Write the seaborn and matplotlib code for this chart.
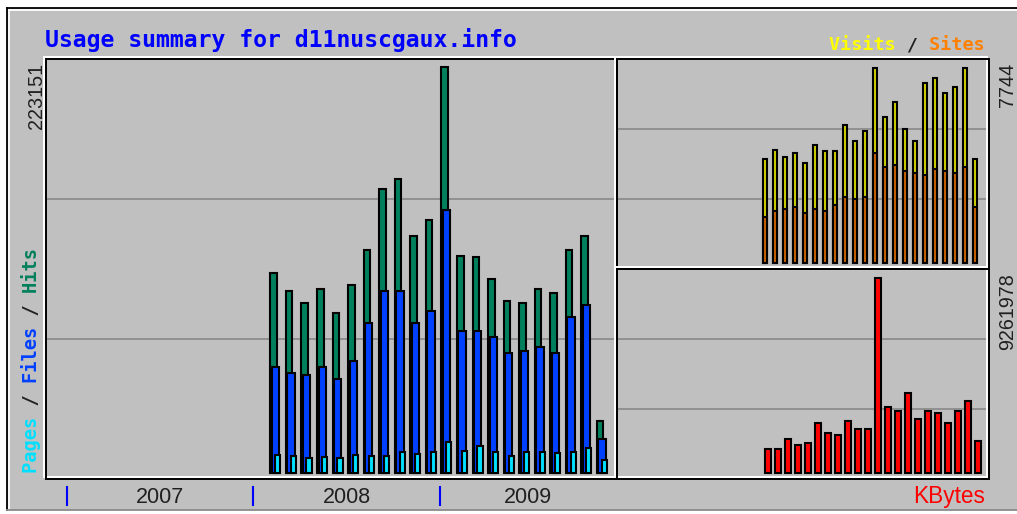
import matplotlib
matplotlib.use("Agg")
import matplotlib.pyplot as plt
import matplotlib.transforms as mtransforms
from matplotlib.patches import Rectangle
from matplotlib.lines import Line2D
import seaborn as sns

# ---- data ----
site_name = "d11nuscgaux.info"
years = [2007, 2008, 2009]
months = ["2008-02", "2008-03", "2008-04", "2008-05", "2008-06", "2008-07",
          "2008-08", "2008-09", "2008-10", "2008-11", "2008-12", "2009-01",
          "2009-02", "2009-03", "2009-04", "2009-05", "2009-06", "2009-07",
          "2009-08", "2009-09", "2009-10", "2009-11"]
hits = [109820, 99950, 93360, 101040, 87880, 103240, 122980, 156060, 161550, 130660, 139440,
        223151, 119690, 118600, 106530, 94460, 93360, 101040, 98850, 122980, 130660, 28630]
files = [58260, 54960, 53870, 58260, 51670, 61550, 82390, 99950, 99950, 82390, 88970,
         144930, 78000, 78000, 74710, 65940, 67030, 69230, 65940, 85680, 92270, 18760]
pages = [9650, 9580, 8420, 8610, 8470, 9710, 9540, 9630, 11820, 10690, 11750,
         17310, 11840, 15120, 11760, 9590, 11710, 11830, 10740, 11780, 14020, 7380]
visits = [4106, 4449, 4185, 4343, 3949, 4657, 4421, 4421, 5445, 4815, 5209,
          7744, 5760, 6390, 5287, 4815, 7110, 7346, 6716, 6953, 7720, 4106]
sites = [1823, 2059, 2138, 2217, 1980, 2138, 2059, 2295, 2610, 2531, 2610,
         4342, 3791, 3870, 3634, 3555, 3476, 3713, 3634, 3555, 3791, 2217]
kbytes = [1134100, 1134100, 1606700, 1323100, 1417700, 2362800, 1890200, 1795700, 2457300,
          2079200, 2079200, 9261978, 3118800, 2929800, 3780400, 2551800, 2929800, 2835300,
          2362800, 2929800, 3402400, 1512200]

# month index counted from January of the first year
midx = [(int(s[:4]) - years[0]) * 12 + int(s[5:]) - 1 for s in months]

GRAY = "#c0c0c0"
C_HITS, C_FILES, C_PAGES = "#00805c", "#0040ff", "#00e0ff"
C_VISITS, C_SITES, C_KB = "#d2d200", "#c86400", "#ff0000"
MONO = "DejaVu Sans Mono"
SANS = "Liberation Sans"

W, H = 1017, 514
fig = plt.figure(figsize=(W / 100, H / 100), dpi=100, facecolor="white")


def fx(x):
    return x / W


def fy(y):
    return 1 - y / H


# outer background
fig.add_artist(Rectangle((fx(6.7), fy(510)), 1, (510 - 8) / H, facecolor=GRAY,
                         edgecolor="none", transform=fig.transFigure, zorder=-2))
for (x0, y0, x1, y1, c) in [(6.7, 8, 1017, 8, "black"), (6.7, 8, 6.7, 510, "black"),
                            (8.8, 10.4, 1017, 10.4, "white"), (8.8, 10.4, 8.8, 510, "white"),
                            (6.7, 510, 1017, 510, "#8a8a8a")]:
    fig.add_artist(Line2D([fx(x0), fx(x1)], [fy(y0), fy(y1)], color=c, lw=1.3,
                          transform=fig.transFigure, zorder=-1))


def panel(x0, y0, x1, y1, base_px, top_px, vmax, xlim):
    ax = fig.add_axes([fx(x0), fy(y1), (x1 - x0) / W, (y1 - y0) / H])
    ax.set_axis_off()
    scale = vmax / (base_px - top_px)
    lo, hi = -(y1 - base_px) * scale, (base_px - y0) * scale
    ax.set_ylim(lo, hi)
    ax.set_xlim(*xlim)
    for f in (1 / 3, 2 / 3):
        ax.axhline(lo + (hi - lo) * f, color="#8c8c8c", lw=1.3, zorder=0.5)
    # grooved frame: white rectangle shifted up-left, black on top
    for d, c in ((-2, "white"), (0, "black")):
        fig.add_artist(Rectangle((fx(x0 + d), fy(y1 + d)), (x1 - x0) / W, (y1 - y0) / H,
                                 fill=False, edgecolor=c, lw=1.4,
                                 transform=fig.transFigure, zorder=4))
    return ax


def bars(ax, xs, ys, color, width):
    sns.barplot(x=xs, y=ys, native_scale=True, color=color, saturation=1, width=width,
                errorbar=None, edgecolor="black", linewidth=1.5, ax=ax, zorder=2)


# ---- main panel: hits / files / pages ----
slot_main, x0_main = 15.55, 71.5
main_x = (46.3, 616.7)
main_lim = ((main_x[0] - x0_main) / slot_main, (main_x[1] - x0_main) / slot_main)
ax_main = panel(main_x[0], 59, main_x[1], 478.7, 473, 67.5, max(hits), main_lim)
bars(ax_main, [m for m in midx], hits, C_HITS, 0.42)
bars(ax_main, [m + 0.12 for m in midx], files, C_FILES, 0.47)
bars(ax_main, [m + 0.27 for m in midx], pages, C_PAGES, 0.33)
ax_main.set_xlim(*main_lim)

# ---- right panels ----
slot_r, x0_r = 10.0, 630.0
rx = (616.7, 988.5)
rlim = ((rx[0] - x0_r) / slot_r, (rx[1] - x0_r) / slot_r)
ax_vs = panel(rx[0], 59, rx[1], 269.3, 262.5, 67.5, max(visits), rlim)
bars(ax_vs, [m + 0.5 for m in midx], visits, C_VISITS, 0.44)
bars(ax_vs, [m + 0.5 for m in midx], sites, C_SITES, 0.44)
ax_vs.set_xlim(*rlim)

ax_kb = panel(rx[0], 269.3, rx[1], 479.3, 472.5, 278.1, max(kbytes), rlim)
bars(ax_kb, [m + 0.77 for m in midx], kbytes, C_KB, 0.62)
ax_kb.set_xlim(*rlim)

for ax in (ax_main, ax_vs, ax_kb):
    ax.set_xlabel("")
    ax.set_ylabel("")

# ---- year ticks and labels under the main panel ----
blend = mtransforms.blended_transform_factory(ax_main.transData, fig.transFigure)
xmax_main = ax_main.get_xlim()[1]
for i, yr in enumerate(years):
    start = 12 * i - 0.31
    ax_main.add_line(Line2D([start, start], [fy(487.3), fy(504.7)], color="#0000ff", lw=1.5,
                            transform=blend, clip_on=False))
    centre = (start + min(start + 12, xmax_main)) / 2
    ax_main.text(centre, fy(503.3), str(yr), transform=blend, ha="center", va="baseline",
                 family=SANS, fontsize=15.5, color="#202020", clip_on=False)

# ---- texts ----
fig.text(fx(45), fy(46.7), f"Usage summary for {site_name}", color="#0000ff",
         fontsize=16.7, family=MONO, weight="bold", ha="left", va="baseline")


def mono_parts(x, y, parts, fontsize, rotation=0):
    full = "".join(p for p, _ in parts)
    pos = 0
    for text, color in parts:
        s = " " * pos + text + " " * (len(full) - pos - len(text))
        fig.text(fx(x), fy(y), s, color=color, fontsize=fontsize, family=MONO,
                 weight="bold", ha="left", va="baseline", rotation=rotation,
                 rotation_mode="anchor")
        pos += len(text)


mono_parts(829, 50.5, [("Visits", "#ffff00"), (" / ", "#202020"), ("Sites", "#ff8000")], 13.2)
mono_parts(37.3, 473.3, [("Pages", C_PAGES), (" / ", "#202020"), ("Files", C_FILES),
                         (" / ", "#202020"), ("Hits", C_HITS)], 13.5, rotation=90)

num_style = dict(rotation=90, rotation_mode="anchor", ha="right", va="baseline",
                 family=SANS, fontsize=14.2, color="#202020")
fig.text(fx(41.7), fy(63), f"{max(hits)}", **num_style)
fig.text(fx(1013.3), fy(63), f"{max(visits)}", **num_style)
fig.text(fx(1013.3), fy(273.3), f"{max(kbytes)}", **num_style)

fig.text(fx(985), fy(503.3), "KBytes", ha="right", va="baseline", color="#ff0000",
         fontsize=16.3, family=SANS)

fig.savefig("out.png", dpi=100, facecolor="white")
